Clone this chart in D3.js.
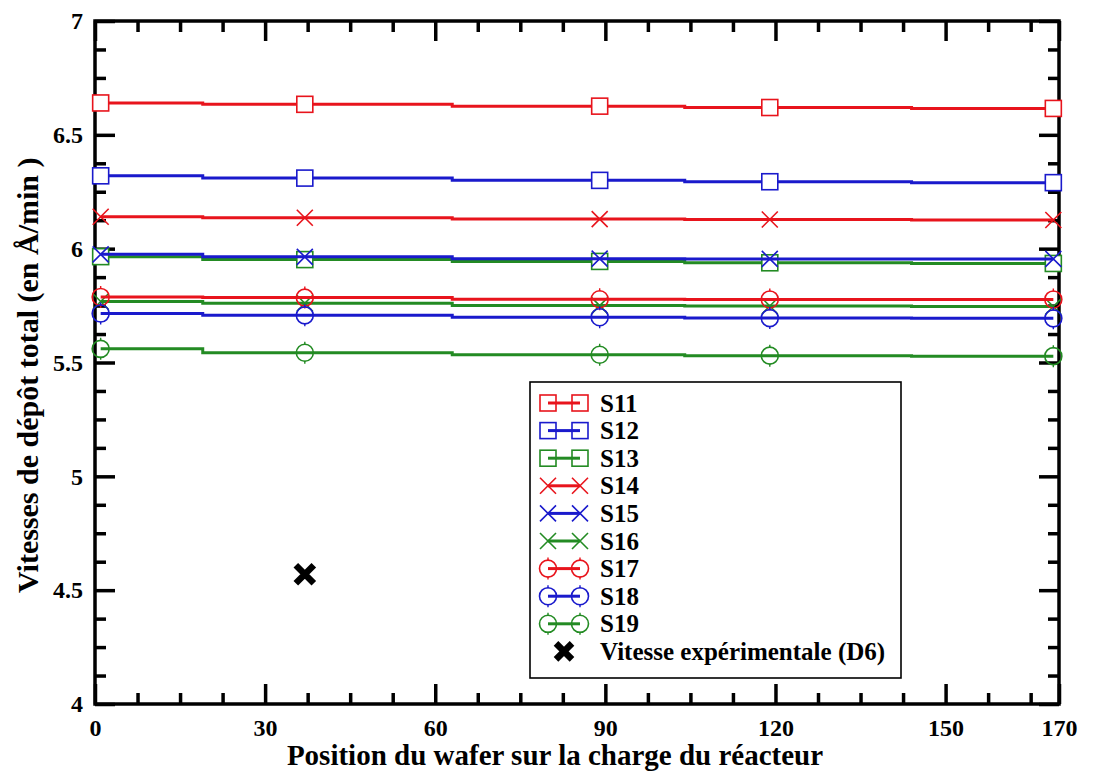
<!DOCTYPE html>
<html>
<head>
<meta charset="utf-8">
<script src="https://cdn.jsdelivr.net/npm/d3@7"></script>
<style>
  html, body { margin: 0; padding: 0; background: #fff; }
  svg { display: block; }
  text { font-family: "Liberation Serif", "Times New Roman", serif; font-weight: bold; fill: #000; }
</style>
</head>
<body>
<svg id="chart" width="1106" height="774"></svg>
<script>
// ---------- DATA ----------
const positions = [1, 37, 89, 119, 169];
const seriesNames = ["S11", "S12", "S13", "S14", "S15", "S16", "S17", "S18", "S19"];
const S11 = [6.640, 6.634, 6.626, 6.620, 6.616];
const S12 = [6.320, 6.310, 6.300, 6.294, 6.290];
const S13 = [5.965, 5.952, 5.944, 5.938, 5.935];
const S14 = [6.140, 6.136, 6.130, 6.128, 6.126];
const S15 = [5.975, 5.964, 5.956, 5.955, 5.955];
const S16 = [5.768, 5.760, 5.750, 5.748, 5.746];
const S17 = [5.788, 5.785, 5.778, 5.777, 5.777];
const S18 = [5.715, 5.707, 5.699, 5.695, 5.694];
const S19 = [5.560, 5.543, 5.534, 5.530, 5.528];
const seriesValues = [S11, S12, S13, S14, S15, S16, S17, S18, S19];
const seriesColors = ["#e8141c", "#1a1acc", "#238b23", "#e8141c", "#1a1acc", "#238b23", "#e8141c", "#1a1acc", "#238b23"];
const seriesSymbols = ["square", "square", "square", "cross", "cross", "cross", "circle", "circle", "circle"];
const expLabel = "Vitesse expérimentale (D6)";
const expX = [37];
const expY = [4.57];
const xTickValues = [0, 30, 60, 90, 120, 150, 170];
const xTickLabels = ["0", "30", "60", "90", "120", "150", "170"];
const yTickValues = [4, 4.5, 5, 5.5, 6, 6.5, 7];
const yTickLabels = ["4", "4.5", "5", "5.5", "6", "6.5", "7"];
const xTitle = "Position du wafer sur la charge du réacteur";
const yTitle = "Vitesses de dépôt total (en Å/min )";

// ---------- LAYOUT ----------
const L = 95, R = 1059, T = 21, B = 704;
const svg = d3.select("#chart");
const x = d3.scaleLinear().domain([0, 170]).range([L, R]);
const y = d3.scaleLinear().domain([4, 7]).range([B, T]);

const xMinor = d3.range(0, 170.01, 7.5).filter(v => !xTickValues.includes(v));
const yMinor = d3.range(4, 7.001, 0.125).map(v => +v.toFixed(3)).filter(v => !yTickValues.includes(v));

function styleAxis(g) {
  g.select(".domain").remove();
  g.selectAll(".tick line").attr("stroke", "#000").attr("stroke-width", 3.5);
  g.selectAll(".tick text").style("font-size", "24px").style("font-family", "'Liberation Serif', serif").style("font-weight", "bold").attr("fill", "#000");
}

// bottom
svg.append("g").attr("transform", `translate(0,${B})`)
  .call(d3.axisBottom(x).tickValues(xTickValues).tickSize(-20).tickSizeOuter(0).tickPadding(15)
    .tickFormat((d, i) => xTickLabels[i])).call(styleAxis);
svg.append("g").attr("transform", `translate(0,${B})`)
  .call(d3.axisBottom(x).tickValues(xMinor).tickSize(-11).tickSizeOuter(0).tickFormat("")).call(styleAxis);
// top
svg.append("g").attr("transform", `translate(0,${T})`)
  .call(d3.axisTop(x).tickValues(xTickValues).tickSize(-20).tickSizeOuter(0).tickFormat("")).call(styleAxis);
svg.append("g").attr("transform", `translate(0,${T})`)
  .call(d3.axisTop(x).tickValues(xMinor).tickSize(-11).tickSizeOuter(0).tickFormat("")).call(styleAxis);
// left
svg.append("g").attr("transform", `translate(${L},0)`)
  .call(d3.axisLeft(y).tickValues(yTickValues).tickSize(-20).tickSizeOuter(0).tickPadding(12)
    .tickFormat((d, i) => yTickLabels[i])).call(styleAxis);
svg.append("g").attr("transform", `translate(${L},0)`)
  .call(d3.axisLeft(y).tickValues(yMinor).tickSize(-11).tickSizeOuter(0).tickFormat("")).call(styleAxis);
// right
svg.append("g").attr("transform", `translate(${R},0)`)
  .call(d3.axisRight(y).tickValues(yTickValues).tickSize(-20).tickSizeOuter(0).tickFormat("")).call(styleAxis);
svg.append("g").attr("transform", `translate(${R},0)`)
  .call(d3.axisRight(y).tickValues(yMinor).tickSize(-11).tickSizeOuter(0).tickFormat("")).call(styleAxis);

// frame
svg.append("rect").attr("x", L).attr("y", T).attr("width", R - L).attr("height", B - T)
  .attr("fill", "none").attr("stroke", "#000").attr("stroke-width", 3.5);

// ---------- MARKERS ----------
function drawSymbol(g, type, cx, cy, color) {
  if (type === "square") {
    g.append("rect").attr("x", cx - 8).attr("y", cy - 8).attr("width", 16).attr("height", 16)
      .attr("fill", "#fff").attr("stroke", color).attr("stroke-width", 1.6);
  } else if (type === "cross") {
    g.append("path").attr("d", `M${cx - 8},${cy - 8}L${cx + 8},${cy + 8}M${cx - 8},${cy + 8}L${cx + 8},${cy - 8}`)
      .attr("fill", "none").attr("stroke", color).attr("stroke-width", 1.6);
  } else if (type === "circle") {
    g.append("circle").attr("cx", cx).attr("cy", cy).attr("r", 8.5)
      .attr("fill", "none").attr("stroke", color).attr("stroke-width", 1.6);
    g.append("path").attr("d", `M${cx},${cy - 11}L${cx},${cy - 8}M${cx},${cy + 8}L${cx},${cy + 11}`)
      .attr("stroke", color).attr("stroke-width", 1.4);
  }
}

const lineGen = d3.line().x(d => x(d[0])).y(d => y(d[1])).curve(d3.curveStep);
const plot = svg.append("g");
seriesValues.forEach((vals, si) => {
  const pts = positions.map((p, i) => [p, vals[i]]);
  plot.append("path").attr("d", lineGen(pts)).attr("fill", "none")
    .attr("stroke", seriesColors[si]).attr("stroke-width", 3);
  const mg = plot.append("g");
  pts.forEach(p => drawSymbol(mg, seriesSymbols[si], x(p[0]), y(p[1]), seriesColors[si]));
});

// experimental point
function drawBigX(g, cx, cy, s) {
  g.append("path").attr("d", `M${cx - s},${cy - s}L${cx + s},${cy + s}M${cx - s},${cy + s}L${cx + s},${cy - s}`)
    .attr("stroke", "#000").attr("stroke-width", 6.5).attr("fill", "none");
}
expX.forEach((v, i) => drawBigX(plot, x(v), y(expY[i]), 9));

// ---------- LEGEND ----------
const lg = svg.append("g");
const lx0 = 530, ly0 = 382, lx1 = 901, ly1 = 678;
lg.append("rect").attr("x", lx0).attr("y", ly0).attr("width", lx1 - lx0).attr("height", ly1 - ly0)
  .attr("fill", "#fff").attr("stroke", "#000").attr("stroke-width", 1.6);
const rowH = 27.6, row0 = 403, symL = 548, symR = 580, textX = 600;
seriesNames.forEach((name, i) => {
  const cy = row0 + i * rowH;
  drawSymbol(lg, seriesSymbols[i], symL, cy, seriesColors[i]);
  drawSymbol(lg, seriesSymbols[i], symR, cy, seriesColors[i]);
  lg.append("line").attr("x1", symL).attr("x2", symR).attr("y1", cy).attr("y2", cy)
    .attr("stroke", seriesColors[i]).attr("stroke-width", 3);
  lg.append("text").attr("x", textX).attr("y", cy + 8.5).style("font-size", "25px").text(name);
});
{
  const cy = row0 + seriesNames.length * rowH;
  drawBigX(lg, 564, cy, 8);
  lg.append("text").attr("x", textX).attr("y", cy + 8.5).style("font-size", "25px").text(expLabel);
}

// ---------- TITLES ----------
svg.append("text").attr("x", 555).attr("y", 765).attr("text-anchor", "middle")
  .style("font-size", "29px").text(xTitle);
svg.append("text").attr("transform", "translate(38,593) rotate(-90)").attr("text-anchor", "start")
  .style("font-size", "30px").text(yTitle);
</script>
</body>
</html>
